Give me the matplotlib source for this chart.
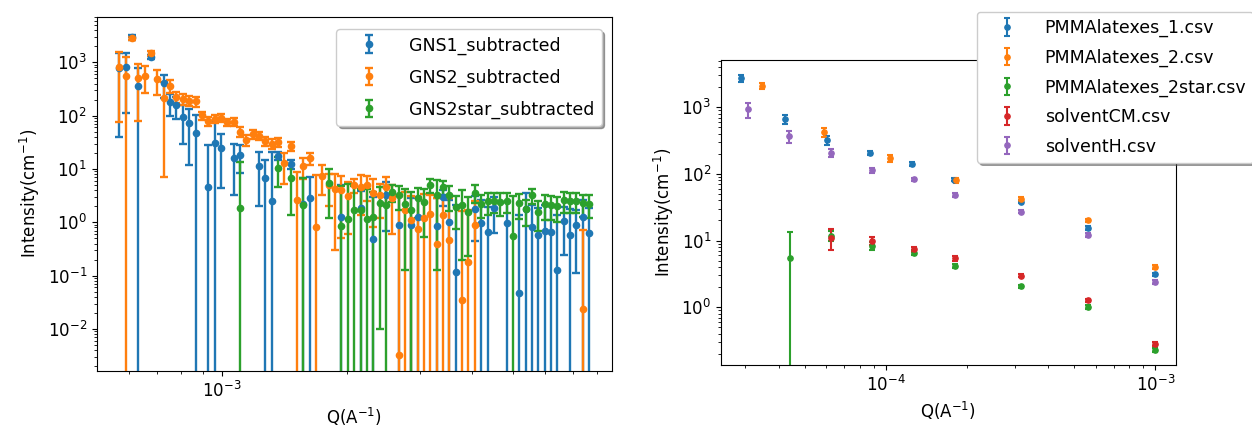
import numpy as np
import matplotlib
matplotlib.use("Agg")
import matplotlib.pyplot as plt
from matplotlib.ticker import NullFormatter

# ---- left panel: GNS samples, shared Q grid ----
q_grid = [5.672e-4, 5.875e-4, 6.084e-4, 6.302e-4, 6.528e-4, 6.761e-4, 7.003e-4, 7.254e-4,
          7.513e-4, 7.782e-4, 8.061e-4, 8.349e-4, 8.648e-4, 8.957e-4, 9.277e-4, 9.609e-4,
          9.953e-4, 1.031e-3, 1.068e-3, 1.106e-3, 1.146e-3, 1.187e-3, 1.229e-3, 1.273e-3,
          1.318e-3, 1.366e-3, 1.414e-3, 1.465e-3, 1.518e-3, 1.572e-3, 1.628e-3, 1.686e-3,
          1.746e-3, 1.809e-3, 1.873e-3, 1.940e-3, 2.010e-3, 2.082e-3, 2.156e-3, 2.233e-3,
          2.313e-3, 2.396e-3, 2.481e-3, 2.570e-3, 2.662e-3, 2.757e-3, 2.856e-3, 2.958e-3,
          3.064e-3, 3.173e-3, 3.287e-3, 3.404e-3, 3.526e-3, 3.652e-3, 3.783e-3, 3.918e-3,
          4.058e-3, 4.203e-3, 4.354e-3, 4.509e-3, 4.671e-3, 4.838e-3, 5.011e-3, 5.190e-3,
          5.376e-3, 5.568e-3, 5.768e-3, 5.974e-3, 6.188e-3, 6.409e-3, 6.638e-3, 6.876e-3,
          7.121e-3, 7.376e-3, 7.640e-3]

gns1_idx = [0, 1, 2, 3, 5, 7, 8, 9, 10, 11, 12, 14, 15, 16, 18, 19, 22, 23, 24, 25, 27, 29, 30,
            35, 38, 40, 42, 44, 46, 47, 50, 51, 52, 53, 56, 57, 58, 59, 61, 63, 64, 65, 66, 67,
            68, 69, 70, 71, 72, 73, 74]
gns1_I = [780, 804, 2940, 363, 1270, 403, 178, 158, 95, 72, 48, 4.5, 31, 24.4, 16.3, 18.3, 11.5,
          6.9, 2.5, 17.6, 12.4, 2.2, 2.8, 1.24, 1.83, 0.48, 3.2, 0.89, 0.89, 1.24, 0.85, 3.0, 1.03,
          0.119, 1.75, 0.98, 0.67, 1.83, 0.99, 0.047, 1.78, 0.82, 0.58, 0.70, 0.65, 0.125, 1.07,
          0.58, 0.89, 1.27, 0.64]
gns1_err = [740, 690, 300, 430, 100, 185, 80, 70, 65, 60, 54, 24, 50, 20, 13, 10, 9.5, 7.8, 18, 3,
            2.5, 4.5, 4.4, 3.8, 2.0, 2.5, 2.5, 2.2, 2.0, 1.8, 2.0, 1.0, 1.6, 2.0, 1.3, 1.6, 1.3,
            1.2, 1.4, 1.3, 1.8, 1.3, 1.3, 1.4, 1.4, 1.25, 0.83, 1.2, 0.78, 1.4, 1.2]

gns2_idx = list(range(0, 53)) + [54, 55, 56, 73]
gns2_I = [826, 552, 2810, 500, 552, 1473, 479, 217, 363, 225, 205, 192, 188, 101, 80, 87, 92, 75,
          77, 50, 35, 45, 42, 33, 30, 32, 12.8, 26.5, 2.6, 11.4, 16, 0.83, 7.5, 5.0, 4.2, 4.0,
          3.1, 5.0, 4.5, 5.0, 3.6, 3.2, 4.6, 2.8, 0.0033, 1.7, 1.1, 0.75, 1.19, 1.41, 0.40, 1.37,
          0.47, 0.035, 0.18, 0.89, 0.024]
gns2_err = [750, 720, 200, 420, 290, 150, 235, 210, 95, 50, 45, 40, 40, 18, 15, 15, 15, 12, 12,
            10, 8, 8, 7, 6, 6, 6, 7.5, 5, 6.3, 5, 4, 6.9, 4.3, 3.0, 3.9, 3.5, 2.5, 1.5, 3.1, 2.5,
            2.8, 2.0, 2.5, 2.2, 3.2, 2.0, 2.0, 2.2, 2.2, 1.8, 2.4, 1.6, 2.4, 1.6, 1.5, 1.6, 0.69]

gns2s_idx = [19, 25, 27, 29, 33] + list(range(35, 75))
gns2s_I = [1.83, 10.6, 6.9, 2.1, 5.5, 0.87, 1.17, 1.7, 1.7, 1.15, 1.27, 2.33, 2.1, 3.75, 3.2,
           2.2, 1.7, 2.8, 2.4, 5.0, 3.2, 4.6, 3.2, 1.96, 2.1, 1.58, 3.6, 2.2, 2.5, 2.5, 2.4, 2.5,
           0.55, 2.27, 1.75, 3.2, 1.58, 2.2, 2.1, 2.0, 2.6, 2.5, 2.5, 2.27, 2.2]
gns2s_err = [11.9, 6.0, 5.5, 4.6, 4.3, 4.0, 4.0, 3.0, 2.5, 3.0, 2.5, 2.32, 2.5, 1.3, 1.5, 2.07,
             2.0, 1.6, 1.86, 1.5, 3.07, 1.4, 1.6, 1.2, 1.9, 1.35, 1.3, 1.0, 1.1, 1.0, 1.1, 1.0,
             2.5, 1.1, 0.9, 1.0, 0.9, 1.1, 1.0, 1.0, 1.1, 1.0, 1.0, 1.0, 1.0]

# ---- right panel: PMMA latexes and solvents ----
pmma1_q = [2.89e-5, 4.23e-5, 6.02e-5, 8.7e-5, 1.25e-4, 1.79e-4, 3.18e-4, 5.62e-4, 1.0e-3]
pmma1_I = [2700, 660, 325, 208, 140, 82, 38.5, 15.5, 3.1]
pmma1_err = [300, 100, 50, 15, 10, 5, 2.5, 1.0, 0.2]

pmma2_q = [3.45e-5, 5.91e-5, 1.035e-4, 1.82e-4, 3.18e-4, 5.62e-4, 1.0e-3]
pmma2_I = [2100, 425, 170, 80, 42.7, 20.2, 4.0]
pmma2_err = [240, 70, 20, 6, 3, 1.2, 0.25]

pmma2s_q = [4.4e-5, 6.23e-5, 8.85e-5, 1.27e-4, 1.81e-4, 3.18e-4, 5.62e-4, 1.0e-3]
pmma2s_I = [5.5, 11.9, 8.3, 6.6, 4.2, 2.07, 1.01, 0.23]
pmma2s_err = [8.1, 2.0, 1.2, 0.5, 0.3, 0.12, 0.06, 0.015]

solcm_q = [6.23e-5, 8.85e-5, 1.27e-4, 1.81e-4, 3.18e-4, 5.62e-4, 1.0e-3]
solcm_I = [11, 10, 7.4, 5.4, 2.95, 1.27, 0.28]
solcm_err = [3.9, 1.4, 0.7, 0.4, 0.15, 0.07, 0.02]

solh_q = [3.07e-5, 4.37e-5, 6.23e-5, 8.85e-5, 1.27e-4, 1.81e-4, 3.18e-4, 5.62e-4, 1.0e-3]
solh_I = [930, 367, 207, 113, 83, 48, 27.2, 12, 2.4]
solh_err = [230, 75, 30, 10, 5, 3, 1.5, 0.8, 0.15]

left_yticks = [1e-2, 1e-1, 1e0, 1e1, 1e2, 1e3]
left_xticks = [1e-3]
right_yticks = [1e0, 1e1, 1e2, 1e3]
right_xticks = [1e-4, 1e-3]


def main() -> None:
    plt.rcParams["font.size"] = 12
    W, H = 1252, 432
    fig = plt.figure(figsize=(W / 100, H / 100), dpi=100)
    ax1 = fig.add_axes([96.7 / W, 1 - 371 / H, (612 - 96.7) / W, (371 - 16.7) / H])
    ax2 = fig.add_axes([721 / W, 1 - 365 / H, (1175.7 - 721) / W, (365 - 60) / H])

    q = np.array(q_grid)
    left = [("GNS1_subtracted", gns1_idx, gns1_I, gns1_err, "C0"),
            ("GNS2_subtracted", gns2_idx, gns2_I, gns2_err, "C1"),
            ("GNS2star_subtracted", gns2s_idx, gns2s_I, gns2s_err, "C2")]
    for label, idx, I, err, c in left:
        ax1.errorbar(q[idx], I, yerr=err, fmt="o", ms=4.5, capsize=3,
                     elinewidth=1.7, capthick=1.7, color=c, label=label)
    ax1.set_xscale("log")
    ax1.set_yscale("log")
    ax1.set_xticks(left_xticks)
    ax1.set_yticks(left_yticks)
    ax1.set_xlim(5.005e-4, 8.67e-3)
    ax1.set_ylim(1.63e-3, 7160)
    ax1.set_xlabel("Q(A$^{-1}$)")
    ax1.set_ylabel("Intensity(cm$^{-1}$)")
    ax1.legend(loc="upper right", bbox_to_anchor=(601.7 / W, 1 - 29.3 / H),
               bbox_transform=fig.transFigure, borderaxespad=0, shadow=True,
               framealpha=1, fontsize=12.5, labelspacing=0.8, handlelength=3.0)

    right = [("PMMAlatexes_1.csv", pmma1_q, pmma1_I, pmma1_err, "C0"),
             ("PMMAlatexes_2.csv", pmma2_q, pmma2_I, pmma2_err, "C1"),
             ("PMMAlatexes_2star.csv", pmma2s_q, pmma2s_I, pmma2s_err, "C2"),
             ("solventCM.csv", solcm_q, solcm_I, solcm_err, "C3"),
             ("solventH.csv", solh_q, solh_I, solh_err, "C4")]
    for label, qq, I, err, c in right:
        ax2.errorbar(qq, I, yerr=err, fmt="o", ms=3.8, capsize=2.5,
                     elinewidth=1.5, capthick=1.5, color=c, label=label)
    ax2.set_xscale("log")
    ax2.set_yscale("log")
    ax2.set_xticks(right_xticks)
    ax2.set_yticks(right_yticks)
    ax2.set_xlim(2.44e-5, 1.19e-3)
    ax2.set_ylim(0.136, 5100)
    ax2.set_xlabel("Q(A$^{-1}$)")
    ax2.set_ylabel("Intensity(cm$^{-1}$)")
    ax2.legend(loc="upper left", bbox_to_anchor=(977 / W, 1 - 12 / H),
               bbox_transform=fig.transFigure, borderaxespad=0, shadow=True,
               framealpha=1, fontsize=12.5, labelspacing=0.66, handlelength=2.7)

    for ax in (ax1, ax2):
        ax.xaxis.set_minor_formatter(NullFormatter())
        ax.yaxis.set_minor_formatter(NullFormatter())

    fig.savefig("out.png", dpi=100)


if __name__ == "__main__":
    main()
